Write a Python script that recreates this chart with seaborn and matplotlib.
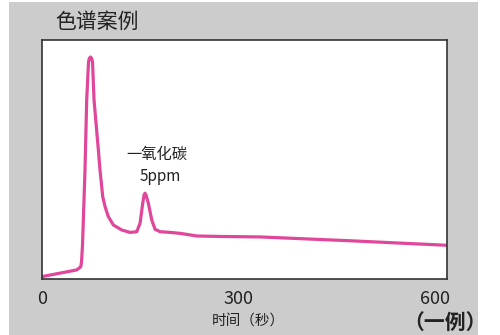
import matplotlib
matplotlib.use("Agg")
import matplotlib.pyplot as plt
from matplotlib.patches import Rectangle
import pandas as pd
import seaborn as sns

# Chromatogram trace: retention time (s) vs. detector signal (arbitrary units)
time_s = [0, 53, 59.1, 60.3, 61.8, 65.6, 68.2, 71.0, 72.2, 74.0, 75.9, 77.1,
          79.4, 86.0, 88.5, 92.7, 96.2, 101.2, 108.9, 121.7, 134.3, 144.6,
          149.6, 153.7, 155.7, 157.2, 158.8, 162.3, 167.5, 172.5, 180.1,
          195.4, 210.7, 236.2, 271.7, 332.8, 470.2, 618]
signal = [1.0, 3.8, 5.1, 7.1, 14.2, 45.6, 74.9, 90.8, 92.3, 92.9, 92.3, 90.8,
          74.9, 54.0, 45.6, 34.4, 30.3, 26.1, 22.6, 20.5, 19.5, 19.8,
          23.3, 31.7, 35.1, 35.9, 35.1, 31.7, 24.7, 20.8, 19.8,
          19.5, 19.1, 18.0, 17.8, 17.6, 16.0, 14.1]

x_ticks = [0, 300, 600]
x_tick_labels = ["0", "300", "600"]
peak_label = ["一氧化碳", "5ppm"]

sns.set_theme(style="white")
plt.rcParams["font.family"] = ["Noto Sans CJK SC", "DejaVu Sans"]

df = pd.DataFrame({"time": time_s, "signal": signal})

fig = plt.figure(figsize=(5.0, 3.35), dpi=100)
fig.patch.set_facecolor("white")
fig.patches.append(Rectangle((9 / 500, 0), 469 / 500, 333 / 335,
                             transform=fig.transFigure, facecolor="#cccccc",
                             edgecolor="none", zorder=-10))

ax = fig.add_axes([42 / 500, 56 / 335, 405 / 500, 239 / 335])
ax.set_facecolor("white")

sns.lineplot(data=df, x="time", y="signal", ax=ax, color="#e0479a",
             linewidth=2.3, solid_joinstyle="round", solid_capstyle="round")

ax.set_xlim(0, 618)
ax.set_ylim(0, 100)
ax.set_xlabel("")
ax.set_ylabel("")
ax.set_yticks([])
ax.set_xticks(x_ticks)
ax.set_xticklabels(x_tick_labels, fontsize=13, color="#222222")
ax.tick_params(axis="x", which="major", length=0, pad=8)
ax.set_xticks([300], minor=True)
ax.tick_params(axis="x", which="minor", direction="in", length=4,
               width=0.8, color="#555555")

for side in ["left", "right", "top", "bottom"]:
    ax.spines[side].set_color("#333333")
    ax.spines[side].set_linewidth(1.2)

ax.text(176, 52, peak_label[0], ha="center", va="center", fontsize=11,
        color="#222222")
ax.text(181, 43, peak_label[1], ha="center", va="center", fontsize=11,
        color="#222222")

fig.text(55 / 500, 1 - 21.7 / 335, "色谱案例", ha="left", va="center",
         fontsize=15, color="#222222")
fig.text(248 / 500, 1 - 321.7 / 335, "时间（秒）", ha="center", va="center",
         fontsize=10.5, color="#222222")
fig.text(445 / 500, 1 - 323 / 335, "（一例）", ha="center", va="center",
         fontsize=15, fontweight="bold", color="#222222")

fig.savefig("out.png", dpi=100)
